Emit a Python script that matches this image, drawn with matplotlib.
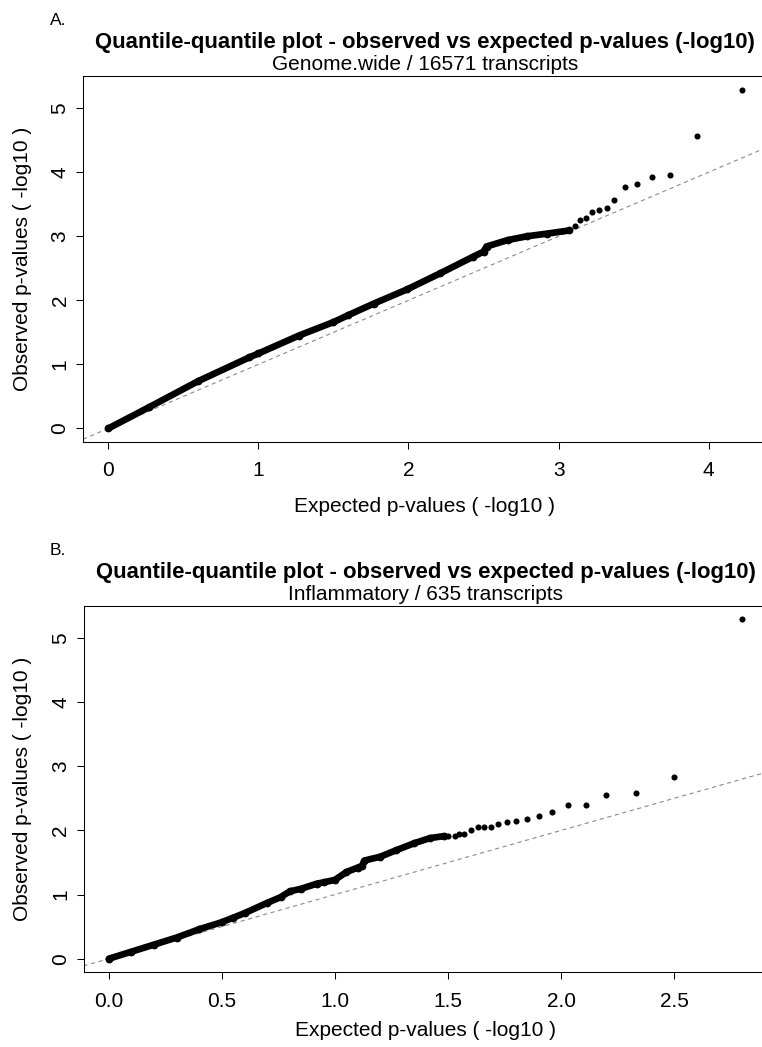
import matplotlib
matplotlib.use("Agg")
import matplotlib.pyplot as plt

plt.rcParams['font.family'] = ['Liberation Sans', 'DejaVu Sans']
plt.rcParams['lines.scale_dashes'] = False

W, H = 762, 1047

# ---- panel A : genome wide ----
a_dense_x = [0.00, 0.27, 0.60, 0.94, 1.00, 1.27, 1.50, 1.60, 1.77, 1.99, 2.21, 2.43, 2.50, 2.52, 2.66, 2.79, 2.92, 3.07]
a_dense_y = [0.00, 0.33, 0.74, 1.11, 1.17, 1.45, 1.66, 1.77, 1.95, 2.17, 2.42, 2.68, 2.76, 2.84, 2.94, 3.00, 3.04, 3.09]
a_tail_x = [3.11, 3.14, 3.18, 3.22, 3.27, 3.32, 3.37, 3.44, 3.52, 3.62, 3.74, 3.92, 4.22]
a_tail_y = [3.16, 3.25, 3.29, 3.38, 3.41, 3.44, 3.56, 3.77, 3.82, 3.93, 3.96, 4.57, 5.29]

# ---- panel B : inflammatory ----
b_dense_x = [0.00, 0.10, 0.20, 0.30, 0.40, 0.50, 0.55, 0.60, 0.70, 0.76, 0.80, 0.85, 0.92, 0.95,
             1.00, 1.05, 1.10, 1.12, 1.13, 1.20, 1.27, 1.35, 1.42, 1.48]
b_dense_y = [0.00, 0.11, 0.22, 0.33, 0.46, 0.57, 0.64, 0.71, 0.87, 0.96, 1.05, 1.09, 1.17, 1.19,
             1.23, 1.35, 1.42, 1.45, 1.53, 1.59, 1.69, 1.80, 1.88, 1.91]
b_tail_x = [1.50, 1.53, 1.55, 1.57, 1.60, 1.63, 1.66, 1.69, 1.72, 1.76, 1.80, 1.85, 1.90, 1.96,
            2.03, 2.11, 2.20, 2.33, 2.50, 2.80]
b_tail_y = [1.92, 1.92, 1.94, 1.95, 2.00, 2.05, 2.05, 2.05, 2.10, 2.13, 2.15, 2.18, 2.22, 2.28,
            2.40, 2.40, 2.55, 2.59, 2.83, 5.29]

a_xticks = [0, 1, 2, 3, 4]
a_xlabels = ['0', '1', '2', '3', '4']
b_xticks = [0.0, 0.5, 1.0, 1.5, 2.0, 2.5]
b_xlabels = ['0.0', '0.5', '1.0', '1.5', '2.0', '2.5']
yticks = [0, 1, 2, 3, 4, 5]

titles = ['Quantile-quantile plot - observed vs expected p-values (-log10)'] * 2
subtitles = ['Genome.wide / 16571 transcripts', 'Inflammatory / 635 transcripts']
letters = ['A.', 'B.']


def fx(px):
    return px / W


def fy(py):
    return 1 - py / H


fig = plt.figure(figsize=(W / 100, H / 100), dpi=100)

# pixel boxes (left, top, right, bottom)
boxes = [(83, 76, 767, 442), (83.5, 605.7, 767.5, 972.3)]
xlab_base = [511.7, 1036]

panels = [
    (a_dense_x, a_dense_y, a_tail_x, a_tail_y, a_xticks, a_xlabels),
    (b_dense_x, b_dense_y, b_tail_x, b_tail_y, b_xticks, b_xlabels),
]

for i, (dx, dy, tx, ty, xt, xl) in enumerate(panels):
    l, t, r, b = boxes[i]
    ax = fig.add_axes([fx(l), fy(b), (r - l) / W, (b - t) / H])

    ax.axline((0, 0), (1, 1), color='#8a8a8a', lw=0.8, linestyle=(0, (3, 2.6)), zorder=1)
    ax.plot(dx, dy, color='black', lw=4.8, solid_capstyle='round', solid_joinstyle='round', zorder=2)
    ax.plot(dx, dy, 'o', color='black', ms=4.6, zorder=2)
    ax.plot(tx, ty, 'o', color='black', ms=4.4, markeredgewidth=0, zorder=3)

    ax.margins(x=0.04, y=0.04)
    ax.set_xticks(xt)
    ax.set_xticklabels(xl, fontsize=15)
    ax.set_yticks(yticks)
    ax.set_yticklabels([str(v) for v in yticks], fontsize=15, rotation=90, va='center')
    ax.tick_params(axis='x', length=5, width=0.75, pad=9)
    ax.tick_params(axis='y', length=5, width=0.75, pad=4.7)
    for s in ax.spines.values():
        s.set_linewidth(0.75)
        s.set_color('black')

    cx = (l + r) / 2
    cy = (t + b) / 2
    fig.text(fx(50), fy(t - 51), letters[i], fontsize=12.5, ha='left', va='baseline')
    fig.text(fx(cx), fy(t - 27.7), titles[i], fontsize=15.9, fontweight='bold', ha='center', va='baseline')
    fig.text(fx(cx), fy(t - 5.7), subtitles[i], fontsize=15, ha='center', va='baseline')
    fig.text(fx(cx), fy(xlab_base[i]), 'Expected p-values ( -log10 )', fontsize=15, ha='center', va='baseline')
    fig.text(fx(23), fy(cy), 'Observed p-values ( -log10 )', fontsize=15, rotation=90, ha='center', va='center')

fig.savefig('out.png', dpi=100)
